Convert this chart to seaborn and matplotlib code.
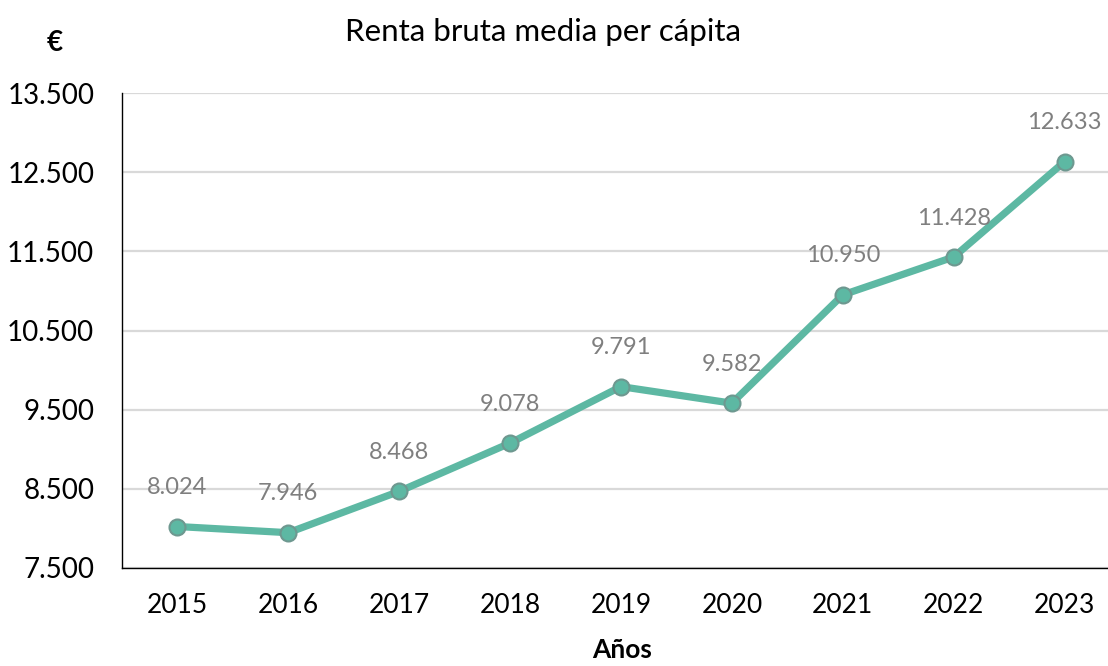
import matplotlib
matplotlib.use("Agg")
import matplotlib.pyplot as plt
import seaborn as sns
import pandas as pd

years = ["2015", "2016", "2017", "2018", "2019", "2020", "2021", "2022", "2023"]
renta = [8024, 7946, 8468, 9078, 9791, 9582, 10950, 11428, 12633]
y_ticks = [7500, 8500, 9500, 10500, 11500, 12500, 13500]
y_tick_labels = ["7.500", "8.500", "9.500", "10.500", "11.500", "12.500", "13.500"]
value_labels = ["8.024", "7.946", "8.468", "9.078", "9.791", "9.582", "10.950", "11.428", "12.633"]

sns.set_theme(style="white")
plt.rcParams['font.family'] = ['Lato', 'DejaVu Sans']

df = pd.DataFrame({"Año": years, "Renta": renta})

fig = plt.figure(figsize=(11.08, 6.66), dpi=100)
ax = fig.add_axes([122/1108, 98/666, (1120-122)/1108, (568-93)/666])

sns.lineplot(data=df, x="Año", y="Renta", ax=ax, color="#5DB8A3", linewidth=5.2,
             marker="o", markersize=11.5, markerfacecolor="#5DB8A3",
             markeredgecolor="#6E9890", markeredgewidth=1.5, zorder=3)

for i, (v, lab) in enumerate(zip(renta, value_labels)):
    ax.annotate(lab, (i, v), xytext=(0, 28), textcoords="offset points",
                ha="center", va="center", fontsize=17, color="#7F7F7F")

ax.set_xlim(-0.5, 8.5)
ax.set_ylim(7500, 13500)
ax.set_yticks(y_ticks)
ax.set_yticklabels(y_tick_labels)
ax.yaxis.grid(True, color="#D9D9D9", linewidth=1.6)
ax.set_axisbelow(True)
for s in ["top", "right"]:
    ax.spines[s].set_visible(False)
for s in ["left", "bottom"]:
    ax.spines[s].set_color("black")
    ax.spines[s].set_linewidth(1.0)
ax.tick_params(axis="x", labelsize=19, pad=18, length=0, colors="black")
ax.tick_params(axis="y", labelsize=20, pad=20, length=0, colors="black")
ax.set_xlabel("")
ax.set_ylabel("")

fig.text(543/1108, 1 - 32/666, "Renta bruta media per cápita", ha="center", va="center",
         fontsize=22.5, color="black")
fig.text(55/1108, 1 - 43/666, "€", ha="center", va="center", fontsize=20,
         fontweight="bold", color="black")
fig.text(622/1108, 1 - 650/666, "Años", ha="center", va="center", fontsize=19,
         fontweight="bold", color="black")

fig.savefig("out.png", dpi=100)
